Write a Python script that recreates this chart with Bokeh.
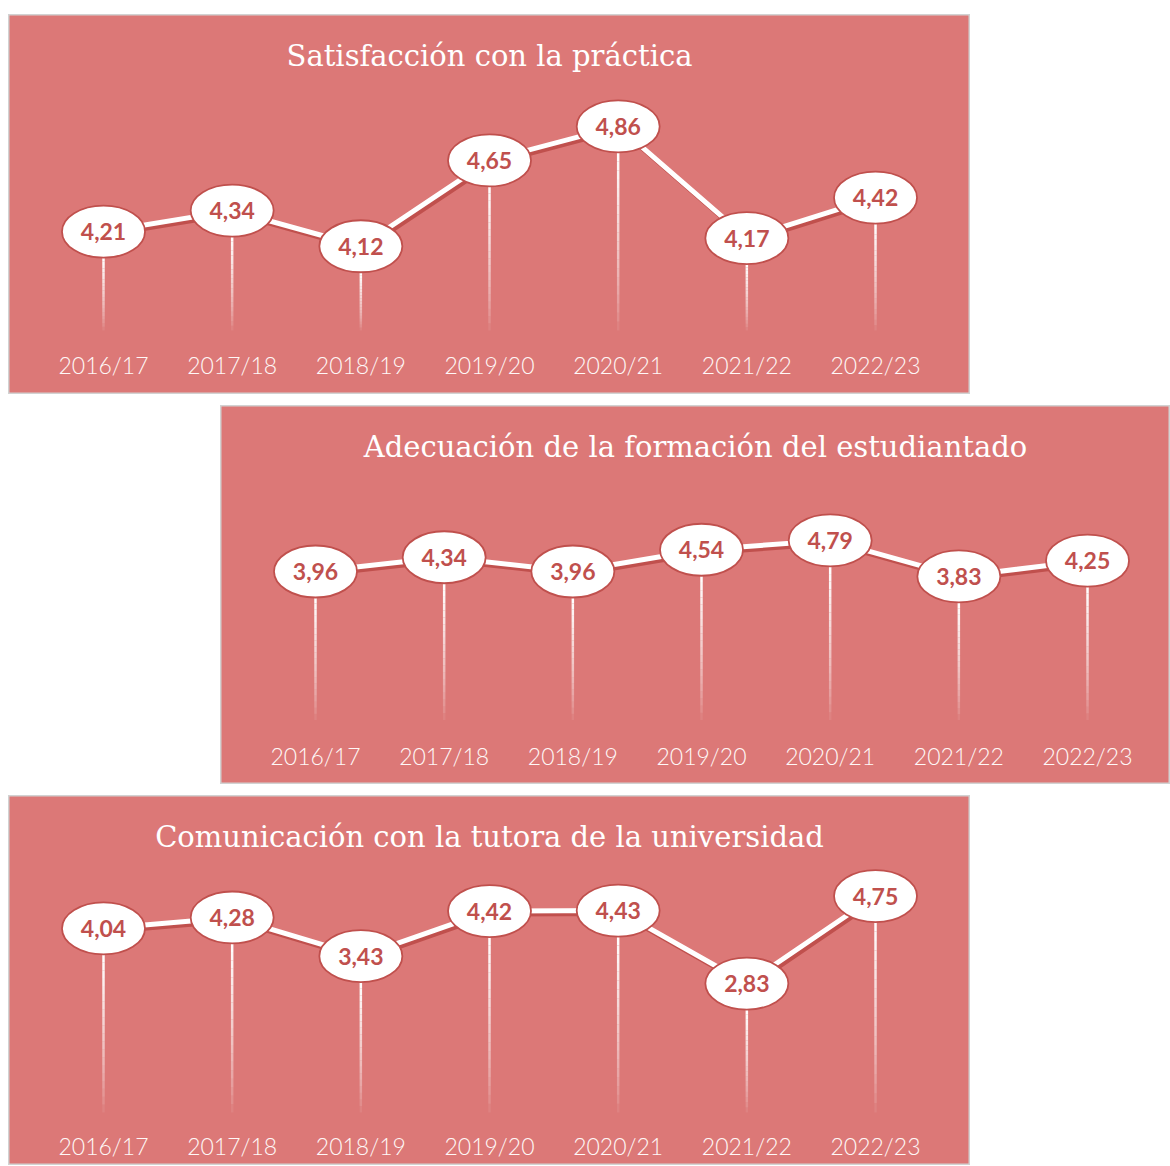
import numpy as np
from bokeh.plotting import figure
from bokeh.models import Range1d, Label, Spacer
from bokeh.layouts import column, row
from bokeh.core.properties import value
from bokeh.embed import file_html
from bokeh.resources import INLINE

# ---------------- data ----------------
cursos = ["2016/17", "2017/18", "2018/19", "2019/20", "2020/21", "2021/22", "2022/23"]
satisfaccion = [4.21, 4.34, 4.12, 4.65, 4.86, 4.17, 4.42]
adecuacion = [3.96, 4.34, 3.96, 4.54, 4.79, 3.83, 4.25]
comunicacion = [4.04, 4.28, 3.43, 4.42, 4.43, 2.83, 4.75]
titulos = [
    "Satisfacción con la práctica",
    "Adecuación de la formación del estudiantado",
    "Comunicación con la tutora de la universidad",
]

# ---------------- style ----------------
FILL = "#DC7877"
BORDER = "#D2D2D2"
DARK = "#C0504D"
PX_CAT = 128.67      # pixels per category
LEFT_PAD = 95        # pixels from panel edge to first category
ELL_W, ELL_H = 83, 52


def make_panel(titulo, valores, width, height, base, base_rel, ppu):
    n = len(cursos)
    x = np.arange(n)
    v = np.array(valores, dtype=float)
    x_start = -LEFT_PAD / PX_CAT
    x_end = x_start + width / PX_CAT
    y_end = base + base_rel / ppu
    y_start = base - (height - base_rel) / ppu

    p = figure(width=width, height=height, x_range=Range1d(x_start, x_end),
               y_range=Range1d(y_start, y_end), x_axis_location=None,
               y_axis_location=None, toolbar_location=None, tools="",
               output_backend="svg", title=None)
    p.min_border_left = p.min_border_right = 0
    p.min_border_top = p.min_border_bottom = 0
    p.grid.visible = False
    p.background_fill_color = FILL
    p.border_fill_color = FILL
    p.outline_line_color = BORDER
    p.outline_line_width = 2

    # drop lines with a fading gradient (white -> transparent)
    K = 20
    top = v - (ELL_H / 2) / ppu
    x0s, y0s, x1s, y1s, alphas = [], [], [], [], []
    for k in range(K):
        t0, t1 = k / K, (k + 1) / K
        x0s.extend(x)
        x1s.extend(x)
        y0s.extend(top + (base - top) * t0)
        y1s.extend(top + (base - top) * t1)
        alphas.extend([1.0 * (1 - (k + 0.5) / K) ** 0.7] * n)
    p.segment(x0s, y0s, x1s, y1s, line_color="white", line_width=2.5,
              line_alpha=alphas)

    # line shadow + white line
    p.line(x + 2.5 / PX_CAT, v - 3 / ppu, line_color=DARK, line_width=5)
    p.line(x, v, line_color="white", line_width=5)

    # ellipses with value labels
    p.ellipse(x, v, width=ELL_W, height=ELL_H, width_units="screen",
              height_units="screen", fill_color="white", line_color=DARK,
              line_width=1.8)
    etiquetas = [f"{val:.2f}".replace(".", ",") for val in valores]
    p.text(x, v, text=etiquetas, text_align="center", text_baseline="middle",
           text_font=value("Lato"), text_font_style="bold",
           text_font_size="23px", text_color=DARK)

    # category labels
    label_y = base - (350 - base_rel) / ppu
    p.text(x, [label_y] * n, text=cursos, text_align="center",
           text_baseline="middle", text_font=value("Lato Light"),
           text_font_size="23px", text_color="#FFF8F8")

    # title
    p.add_layout(Label(x=width / 2, y=height - 41, x_units="screen",
                       y_units="screen", text=titulo, text_align="center",
                       text_baseline="middle", text_font="DejaVu Serif",
                       text_font_size="29px", text_color="white"))
    return p


p1 = make_panel(titulos[0], satisfaccion, 962, 380, 3.6, 316, 162)
p2 = make_panel(titulos[1], adecuacion, 950, 379, 0.0, 314.5, 37.5)
p3 = make_panel(titulos[2], comunicacion, 962, 370, 0.0, 317, 45.57)

layout = column(
    Spacer(height=14),
    row(Spacer(width=8), p1),
    Spacer(height=11),
    row(Spacer(width=220), p2),
    Spacer(height=11),
    row(Spacer(width=8), p3),
)

open("out.html", "w").write(file_html(layout, INLINE, title="Prácticas"))
